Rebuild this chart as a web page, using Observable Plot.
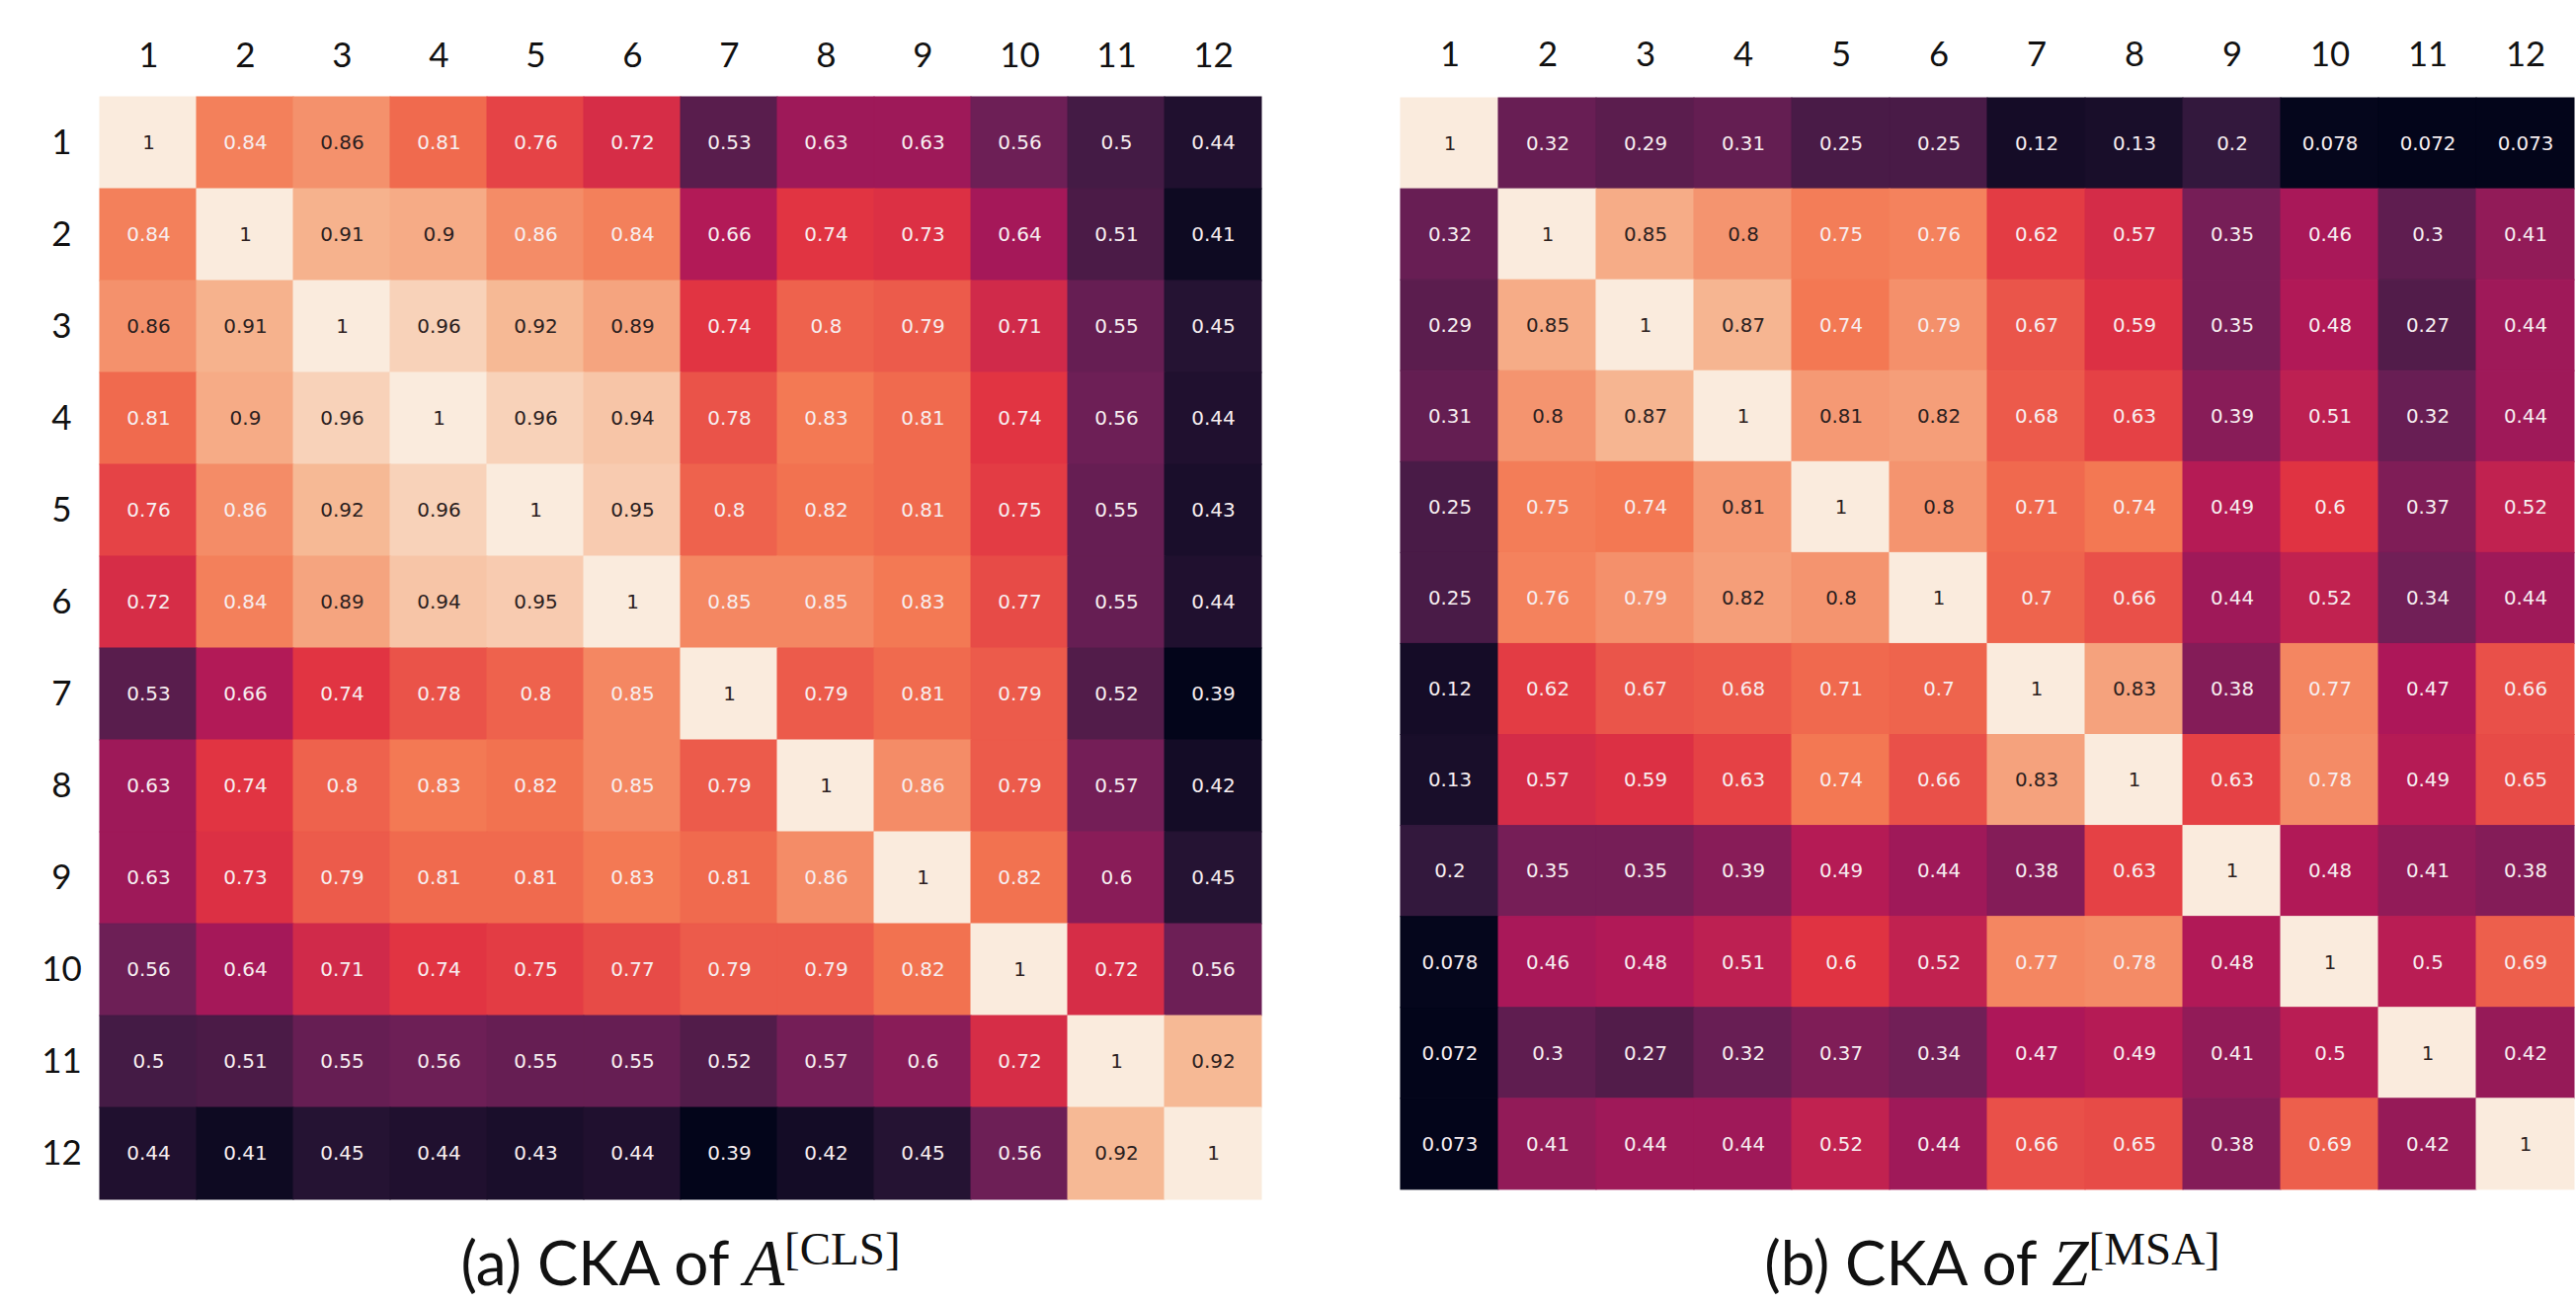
<!DOCTYPE html>
<html>
<head>
<meta charset="utf-8">
<script src="https://cdn.jsdelivr.net/npm/d3@7"></script>
<script src="https://cdn.jsdelivr.net/npm/@observablehq/plot@0.6"></script>
<style>
  html, body { margin: 0; padding: 0; background: #ffffff; overflow: hidden; }
  #page { position: relative; width: 2608px; height: 1320px; overflow: hidden; background: #ffffff; font-family: Lato, sans-serif; }
  .panel { position: absolute; top: 0; }
  #captions { position: absolute; left: 0; top: 0; pointer-events: none; }
</style>
</head>
<body>
<div id="page">
  <div id="left" class="panel" style="left:0px"></div>
  <div id="right" class="panel" style="left:1415px"></div>
  <svg id="captions" width="2608" height="1320" xmlns="http://www.w3.org/2000/svg">
    <text x="689" y="1301" text-anchor="middle" fill="#111"><tspan font-family="Lato" font-size="62">(a) CKA of </tspan><tspan font-family="Liberation Serif" font-style="italic" font-size="67">A</tspan><tspan font-family="Liberation Serif" font-size="47" dy="-21">[CLS]</tspan></text>
    <text x="2017" y="1301" text-anchor="middle" fill="#111"><tspan font-family="Lato" font-size="62">(b) CKA of </tspan><tspan font-family="Liberation Serif" font-style="italic" font-size="67">Z</tspan><tspan font-family="Liberation Serif" font-size="47" dy="-21">[MSA]</tspan></text>
  </svg>
</div>
<script>
// Layer labels (both axes)
const layers = ["1","2","3","4","5","6","7","8","9","10","11","12"];

// (a) CKA of A^[CLS]
const ckaCLS = [
  [1, 0.84, 0.864, 0.81, 0.76, 0.72, 0.53, 0.63, 0.63, 0.56, 0.5, 0.44],
  [0.84, 1, 0.91, 0.9, 0.856, 0.84, 0.66, 0.74, 0.73, 0.64, 0.51, 0.41],
  [0.864, 0.91, 1, 0.96, 0.92, 0.89, 0.74, 0.8, 0.79, 0.71, 0.55, 0.45],
  [0.81, 0.9, 0.96, 1, 0.96, 0.94, 0.78, 0.83, 0.81, 0.74, 0.56, 0.44],
  [0.76, 0.856, 0.92, 0.96, 1, 0.95, 0.8, 0.82, 0.81, 0.75, 0.55, 0.43],
  [0.72, 0.84, 0.89, 0.94, 0.95, 1, 0.85, 0.85, 0.83, 0.77, 0.55, 0.44],
  [0.53, 0.66, 0.74, 0.78, 0.8, 0.85, 1, 0.79, 0.81, 0.79, 0.52, 0.39],
  [0.63, 0.74, 0.8, 0.83, 0.82, 0.85, 0.79, 1, 0.856, 0.79, 0.57, 0.42],
  [0.63, 0.73, 0.79, 0.81, 0.81, 0.83, 0.81, 0.856, 1, 0.82, 0.6, 0.45],
  [0.56, 0.64, 0.71, 0.74, 0.75, 0.77, 0.79, 0.79, 0.82, 1, 0.72, 0.56],
  [0.5, 0.51, 0.55, 0.56, 0.55, 0.55, 0.52, 0.57, 0.6, 0.72, 1, 0.92],
  [0.44, 0.41, 0.45, 0.44, 0.43, 0.44, 0.39, 0.42, 0.45, 0.56, 0.92, 1]
];

// (b) CKA of Z^[MSA]
const ckaMSA = [
  [1, 0.32, 0.29, 0.31, 0.25, 0.25, 0.12, 0.13, 0.2, 0.078, 0.072, 0.073],
  [0.32, 1, 0.85, 0.8, 0.75, 0.76, 0.62, 0.57, 0.35, 0.46, 0.3, 0.41],
  [0.29, 0.85, 1, 0.87, 0.74, 0.79, 0.67, 0.59, 0.35, 0.48, 0.27, 0.44],
  [0.31, 0.8, 0.87, 1, 0.81, 0.82, 0.68, 0.63, 0.39, 0.51, 0.32, 0.44],
  [0.25, 0.75, 0.74, 0.81, 1, 0.8, 0.71, 0.74, 0.49, 0.6, 0.37, 0.52],
  [0.25, 0.76, 0.79, 0.82, 0.8, 1, 0.7, 0.66, 0.44, 0.52, 0.34, 0.44],
  [0.12, 0.62, 0.67, 0.68, 0.71, 0.7, 1, 0.83, 0.38, 0.77, 0.47, 0.66],
  [0.13, 0.57, 0.59, 0.63, 0.74, 0.66, 0.83, 1, 0.63, 0.78, 0.49, 0.65],
  [0.2, 0.35, 0.35, 0.39, 0.49, 0.44, 0.38, 0.63, 1, 0.48, 0.41, 0.38],
  [0.078, 0.46, 0.48, 0.51, 0.6, 0.52, 0.77, 0.78, 0.48, 1, 0.5, 0.69],
  [0.072, 0.3, 0.27, 0.32, 0.37, 0.34, 0.47, 0.49, 0.41, 0.5, 1, 0.42],
  [0.073, 0.41, 0.44, 0.44, 0.52, 0.44, 0.66, 0.65, 0.38, 0.69, 0.42, 1]
];

// seaborn "rocket" colormap stops
const rocketStops = ["#03051a", "#35193e", "#701f57", "#ad1759", "#e13342", "#f37651", "#f6b48f", "#faebdd"];
const rocket = d3.piecewise(d3.interpolateRgb, rocketStops);
const fmt = d3.format(".2~g");

function tidy(matrix) {
  return matrix.flatMap((row, i) => row.map((value, j) => ({row: layers[i], col: layers[j], value})));
}

function heatmap(matrix, {width, height, marginLeft, marginRight, marginTop, marginBottom, yAxis}) {
  const data = tidy(matrix);
  const lo = d3.min(data, d => d.value);
  const hi = d3.max(data, d => d.value);
  const isDark = d => (d.value - lo) / (hi - lo) > 0.775;
  const marks = [
    Plot.cell(data, {x: "col", y: "row", fill: "value", stroke: "value", strokeWidth: 1}),
    Plot.text(data, {filter: d => !isDark(d), x: "col", y: "row", text: d => fmt(d.value),
      fill: "#f7eef0", fontSize: 20, fontFamily: "DejaVu Sans"}),
    Plot.text(data, {filter: d => isDark(d), x: "col", y: "row", text: d => fmt(d.value),
      fill: "#2b2020", fontSize: 20, fontFamily: "DejaVu Sans"}),
    Plot.axisX({anchor: "top", tickSize: 0, tickPadding: 30, fontSize: 35, fontFamily: "Lato", fill: "#111", label: null})
  ];
  if (yAxis) {
    marks.push(Plot.axisY({anchor: "left", tickSize: 0, tickPadding: 35, textAnchor: "middle", fontSize: 35, fontFamily: "Lato", fill: "#111", label: null}));
  }
  return Plot.plot({
    width, height, marginLeft, marginRight, marginTop, marginBottom,
    style: {background: "transparent", overflow: "visible"},
    x: {type: "band", domain: layers, padding: 0, label: null},
    y: {type: "band", domain: layers, padding: 0, label: null, axis: yAxis ? undefined : null},
    color: {type: "linear", domain: [lo, hi], interpolate: rocket},
    marks
  });
}

document.getElementById("left").appendChild(heatmap(ckaCLS, {
  width: 1300, height: 1230, marginLeft: 97, marginRight: 19, marginTop: 97, marginBottom: 16, yAxis: true
}));
document.getElementById("right").appendChild(heatmap(ckaMSA, {
  width: 1205, height: 1230, marginLeft: 0, marginRight: 0, marginTop: 97, marginBottom: 12, yAxis: false
}));
</script>
</body>
</html>
